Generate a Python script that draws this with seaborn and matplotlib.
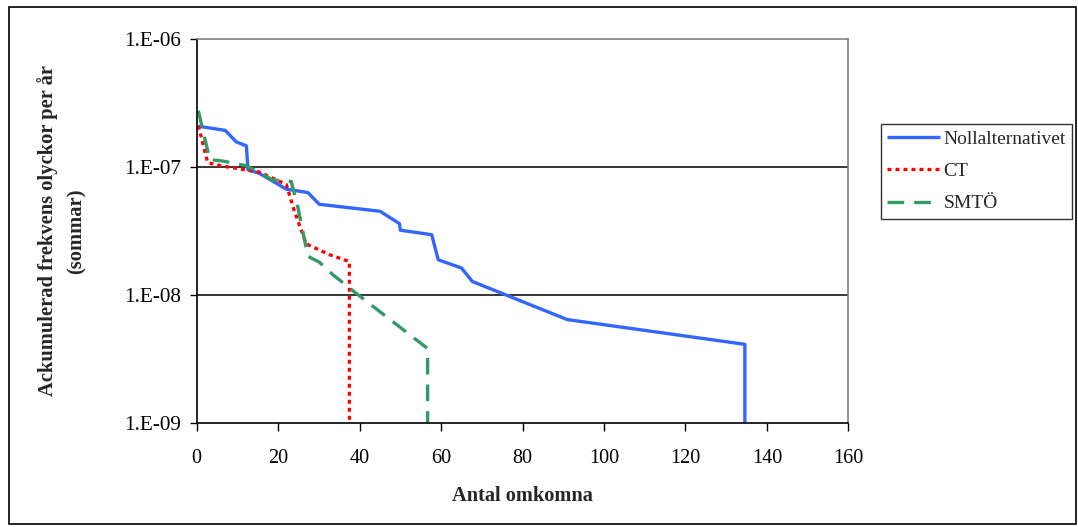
import matplotlib
matplotlib.use("Agg")
import matplotlib.pyplot as plt
import matplotlib.ticker as mticker
from matplotlib.patches import Rectangle
import seaborn as sns
import pandas as pd

# ---- data ----
noll_x = [0.4, 7, 9.7, 12.2, 12.6, 15.4, 22, 27.3, 30.1, 45, 49.8, 50, 57.7, 59.3, 65, 67.7, 91, 134.6, 134.6]
noll_y = [2.08e-7, 1.93e-7, 1.57e-7, 1.46e-7, 9.5e-8, 8.9e-8, 6.7e-8, 6.3e-8, 5.1e-8, 4.5e-8,
          3.6e-8, 3.2e-8, 2.95e-8, 1.88e-8, 1.62e-8, 1.27e-8, 6.4e-9, 4.1e-9, 1e-9]

ct_x = [0.4, 2.7, 6, 11, 15.4, 22, 24, 26.9, 32.6, 37.5, 37.5]
ct_y = [2.1e-7, 1.08e-7, 1.02e-7, 9.6e-8, 9.1e-8, 7.3e-8, 4.5e-8, 2.5e-8, 2.06e-8, 1.82e-8, 1e-9]

smto_x = [0.4, 3.2, 6.5, 12.2, 18.7, 23.2, 24.8, 27.3, 30.1, 33.4, 39.1, 56.7, 56.7]
smto_y = [2.75e-7, 1.14e-7, 1.11e-7, 1.02e-7, 7.9e-8, 7.7e-8, 4.9e-8, 2.0e-8, 1.8e-8, 1.44e-8,
          1.03e-8, 3.8e-9, 1e-9]

series_names = ["Nollalternativet", "CT", "SMTÖ"]
x_ticks = [0, 20, 40, 60, 80, 100, 120, 140, 160]
y_ticks = [1e-9, 1e-8, 1e-7, 1e-6]
y_tick_labels = ["1.E-09", "1.E-08", "1.E-07", "1.E-06"]

# ---- style ----
sns.set_theme(style="white")
plt.rcParams["font.family"] = ["Liberation Serif", "DejaVu Serif"]

fig = plt.figure(figsize=(10.78, 5.27), dpi=100)
ax = fig.add_axes([196.7 / 1078, 1 - 422.7 / 527, (848.3 - 196.7) / 1078, (422.7 - 39) / 527])

colors = ["#3366FF", "#FF0000", "#339966"]
styles = [(0, ()), (0, (1.2, 1.2)), (0, (5, 3))]
data = [(noll_x, noll_y), (ct_x, ct_y), (smto_x, smto_y)]

for name, (xs, ys), c, ls in zip(series_names, data, colors, styles):
    df = pd.DataFrame({"x": xs, "y": ys})
    sns.lineplot(data=df, x="x", y="y", ax=ax, sort=False, estimator=None,
                 color=c, linewidth=2.4, linestyle=ls, label=name)

ax.set_yscale("log")
ax.set_xlim(0, 160)
ax.set_ylim(1e-9, 1e-6)
ax.set_xticks(x_ticks)
ax.set_xticklabels([str(t) for t in x_ticks])
ax.yaxis.set_major_locator(mticker.FixedLocator(y_ticks))
ax.yaxis.set_major_formatter(mticker.FixedFormatter(y_tick_labels))
ax.yaxis.set_minor_locator(mticker.NullLocator())

for yv in [1e-8, 1e-7]:
    ax.axhline(yv, color="black", linewidth=1.1, zorder=0.5)

for s in ["left", "bottom"]:
    ax.spines[s].set_color("black")
    ax.spines[s].set_linewidth(1.2)
for s in ["top", "right"]:
    ax.spines[s].set_color("#808080")
    ax.spines[s].set_linewidth(1.2)

ax.tick_params(axis="x", direction="out", length=6, width=1, colors="black",
               labelsize=14.5, pad=13, bottom=True)
ax.tick_params(axis="y", direction="out", length=5, width=1, colors="black",
               labelsize=15.3, pad=6, left=True)

ax.set_xlabel("Antal omkomna", fontsize=14.7, fontweight="bold", labelpad=13)
ax.set_ylabel("Ackumulerad frekvens olyckor per år\n(sommar)", fontsize=14.8,
              fontweight="bold", labelpad=27, linespacing=1.6)

leg = ax.legend(loc="upper left", bbox_to_anchor=(880.7 / 1078, 1 - 124 / 527),
                bbox_transform=fig.transFigure, frameon=True, fancybox=False,
                fontsize=14, handlelength=2.7, handletextpad=0.2, borderpad=0.33,
                labelspacing=0.75, borderaxespad=0)
leg.get_frame().set_edgecolor("black")
leg.get_frame().set_linewidth(1.0)

fig.patches.append(Rectangle((8.5 / 1078, 3 / 527), 1067 / 1078, 517 / 527,
                             transform=fig.transFigure, fill=False,
                             edgecolor="black", linewidth=1.2))

fig.savefig("out.png", dpi=100)
